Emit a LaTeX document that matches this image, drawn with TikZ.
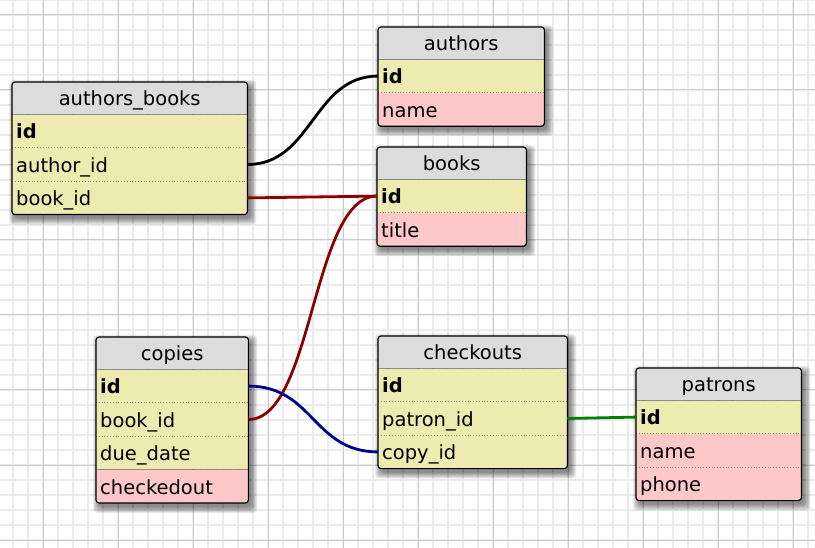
\documentclass[tikz,border=0pt]{standalone}
\usepackage{fontspec}
\setmainfont{DejaVu Sans}
\usetikzlibrary{positioning,fit}
\definecolor{headgray}{HTML}{DCDCDC}
\definecolor{keyyellow}{HTML}{EEEBB0}
\definecolor{datapink}{HTML}{FFC8C8}
\definecolor{linkred}{HTML}{8B0000}
\definecolor{linkblue}{HTML}{00008B}
\definecolor{linkgreen}{HTML}{008000}
\newcommand\cellfont{\fontsize{19.5}{23}\selectfont}
\pgfdeclarelayer{gridlayer}
\pgfdeclarelayer{shadelayer}
\pgfsetlayers{gridlayer,shadelayer,main}

\begin{document}
\begin{tikzpicture}[x=1pt,y=-1pt,
    tabcell/.style={rectangle, inner xsep=4pt, inner ysep=0pt, text height=15.5pt, text depth=0pt,
      align=left, font=\cellfont, text width=#1, minimum height=33pt},
    tabhead/.style={tabcell=#1, fill=headgray, align=center, minimum height=32pt},
    keyrow/.style={tabcell=#1, fill=keyyellow, font=\cellfont\bfseries},
    colrow/.style={tabcell=#1, fill=keyyellow},
    datarow/.style={tabcell=#1, fill=datapink},
    tabframe/.style={draw, line width=1.2pt, rounded corners=3pt, inner sep=0pt},
    tabshade/.style={fill=black, fill opacity=0.08, rounded corners=4pt, inner sep=#1, xshift=3pt, yshift=-4pt},
    rowsep/.style={draw=black!45, dotted, line width=0.8pt},
    fklink/.style={line width=2.8pt},
    minorline/.style={black!8, line width=1.5pt},
    majorline/.style={black!20, line width=1pt}]
    \useasboundingbox (0,0) rectangle (815,548);

    \begin{pgfonlayer}{gridlayer}
    \fill[white] (0,0) rectangle (815,548);
    \foreach \x in {13,28,...,808} \draw[minorline] (\x,0) -- (\x,548);
    \foreach \y in {0,15,...,540} \draw[minorline] (0,\y) -- (815,\y);
    \foreach \x in {43,118,...,793} \draw[majorline] (\x,0) -- (\x,548);
    \foreach \y in {15,90,...,540} \draw[majorline] (0,\y) -- (815,\y);
    \end{pgfonlayer}

    \node[tabhead=227pt, anchor=north west] (ab) at (12,82) {authors\_books};
    \node[keyrow=227pt, below=0pt of ab] (ab-id) {id};
    \node[colrow=227pt, below=0pt of ab-id] (ab-author) {author\_id};
    \node[colrow=227pt, below=0pt of ab-author] (ab-book) {book\_id};

    \node[tabhead=158pt, anchor=north west] (au) at (378,27) {authors};
    \node[keyrow=158pt, below=0pt of au] (au-id) {id};
    \node[datarow=158pt, below=0pt of au-id] (au-name) {name};

    \node[tabhead=141pt, anchor=north west] (bk) at (377,147) {books};
    \node[keyrow=141pt, below=0pt of bk] (bk-id) {id};
    \node[datarow=141pt, below=0pt of bk-id] (bk-title) {title};

    \node[tabhead=144pt, anchor=north west] (cp) at (96,337) {copies};
    \node[keyrow=144pt, below=0pt of cp] (cp-id) {id};
    \node[colrow=144pt, below=0pt of cp-id] (cp-book) {book\_id};
    \node[colrow=144pt, below=0pt of cp-book] (cp-due) {due\_date};
    \node[datarow=144pt, below=0pt of cp-due] (cp-out) {checkedout};

    \node[tabhead=181pt, anchor=north west] (co) at (378,336) {checkouts};
    \node[keyrow=181pt, below=0pt of co] (co-id) {id};
    \node[colrow=181pt, below=0pt of co-id] (co-patron) {patron\_id};
    \node[colrow=181pt, below=0pt of co-patron] (co-copy) {copy\_id};

    \node[tabhead=157pt, anchor=north west] (pa) at (636,368) {patrons};
    \node[keyrow=157pt, below=0pt of pa] (pa-id) {id};
    \node[datarow=157pt, below=0pt of pa-id] (pa-name) {name};
    \node[datarow=157pt, below=0pt of pa-name] (pa-phone) {phone};

    \foreach \r in {ab-id,ab-author,ab-book,au-id,au-name,bk-id,bk-title,cp-id,cp-book,cp-due,cp-out,
                    co-id,co-patron,co-copy,pa-id,pa-name,pa-phone}
        \draw[rowsep] (\r.north west) -- (\r.north east);

    \begin{pgfonlayer}{shadelayer}
    \foreach \t/\last in {ab/ab-book,au/au-name,bk/bk-title,cp/cp-out,co/co-copy,pa/pa-phone}
        \foreach \s in {0,...,6}
            \node[tabshade=\s pt, fit=(\t)(\last)] {};
    \end{pgfonlayer}
    \foreach \t/\last in {ab/ab-book,au/au-name,bk/bk-title,cp/cp-out,co/co-copy,pa/pa-phone}
        \node[tabframe, fit=(\t)(\last)] {};

    \draw[fklink, black] (ab-author.east) .. controls +(65,0) and +(-65,0) .. (au-id.west);
    \draw[fklink, linkred] (ab-book.east) .. controls +(65,0) and +(-65,0) .. (bk-id.west);
    \draw[fklink, linkred] (cp-book.east) .. controls +(65,0) and +(-65,0) .. (bk-id.west);
    \draw[fklink, linkblue] (cp-id.east) .. controls +(65,0) and +(-65,0) .. (co-copy.west);
    \draw[fklink, linkgreen] (co-patron.east) -- (pa-id.west);
\end{tikzpicture}
\end{document}
